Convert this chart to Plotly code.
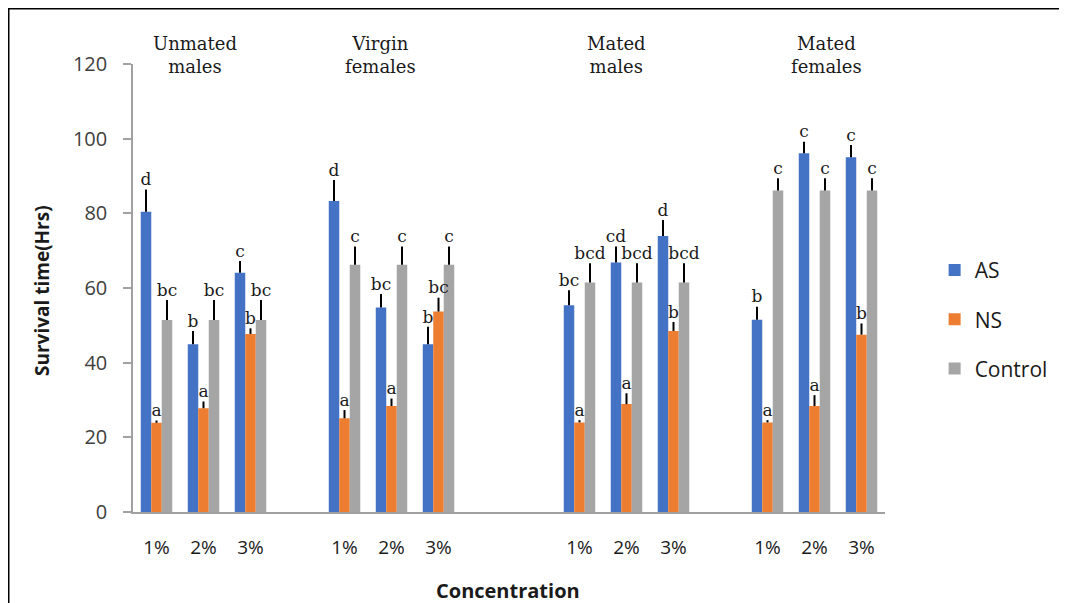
import plotly.graph_objects as go

# ---------------- data ----------------
groups = ["Unmated<br>males", "Virgin<br>females", "Mated<br>males", "Mated<br>females"]
concentrations = ["1%", "2%", "3%"]
series_names = ["AS", "NS", "Control"]

AS = [80.4, 44.9, 64.1, 83.3, 54.8, 44.9, 55.4, 66.8, 73.9, 51.5, 96.1, 95.0]
AS_err = [6.0, 3.6, 3.1, 5.6, 3.6, 4.7, 4.0, 4.3, 4.3, 3.5, 3.1, 3.3]
AS_sig = ["d", "b", "c", "d", "bc", "b", "bc", "cd", "d", "b", "c", "c"]

NS = [23.9, 27.8, 47.7, 25.1, 28.4, 53.7, 24.0, 28.9, 48.5, 24.0, 28.4, 47.5]
NS_err = [0.6, 1.8, 1.5, 2.2, 2.0, 3.7, 0.6, 2.9, 2.4, 0.6, 2.9, 3.0]
NS_sig = ["a", "a", "b", "a", "a", "bc", "a", "a", "b", "a", "a", "b"]

Control = [51.4, 51.4, 51.4, 66.2, 66.2, 66.2, 61.5, 61.5, 61.5, 86.1, 86.1, 86.1]
Control_err = [5.4, 5.4, 5.4, 4.9, 4.9, 4.9, 5.1, 5.1, 5.1, 3.3, 3.3, 3.3]
Control_sig = ["bc", "bc", "bc", "c", "c", "c", "bcd", "bcd", "bcd", "c", "c", "c"]

# ---------------- layout helpers ----------------
empty_slots_before = [0, 1, 2, 1]     # blank category slots between groups
title_shift = [-0.19, -0.23, -0.21, 0.26]
colors = ["#4472C4", "#ED7D31", "#A5A5A5"]
bargap = 0.33

# figure is drawn inside the page's default 8px body margin
W, H = 1059, 595
ML, MT, PW, PH = 125, 56, 752, 448
MR, MB = W - ML - PW, H - MT - PH

def px_x(x):  # figure pixel -> paper x
    return (x - ML) / PW

def px_y(y):  # figure pixel -> paper y
    return (MT + PH - y) / PH

positions = []
group_centers = []
slot = 0
for g, gap in enumerate(empty_slots_before):
    slot += gap
    start = slot
    for c in concentrations:
        positions.append(slot)
        slot += 1
    group_centers.append(start + 1)
tick_text = concentrations * len(groups)

values = [AS, NS, Control]
errors = [AS_err, NS_err, Control_err]
sigs = [AS_sig, NS_sig, Control_sig]

fig = go.Figure()
for i, name in enumerate(series_names):
    fig.add_trace(go.Bar(
        x=positions, y=values[i], name=name, legendgroup=name,
        marker=dict(color=colors[i], line=dict(width=0)),
        error_y=dict(type="data", symmetric=False, array=errors[i],
                     arrayminus=[0] * len(errors[i]),
                     color="black", thickness=2, width=0),
    ))

w = (1 - bargap) / 3
for i, name in enumerate(series_names):
    fig.add_trace(go.Scatter(
        x=[p + (i - 1) * w for p in positions],
        y=[v + e for v, e in zip(values[i], errors[i])],
        mode="text", text=sigs[i], textposition="top center",
        textfont=dict(family="DejaVu Serif", size=17, color="#1a1a1a"),
        showlegend=False, hoverinfo="skip", cliponaxis=False,
    ))

for g, title in enumerate(groups):
    fig.add_annotation(
        x=group_centers[g] + title_shift[g], xref="x",
        y=px_y(47), yref="paper", yanchor="middle",
        text=title, showarrow=False, align="center",
        font=dict(family="DejaVu Serif", size=18, color="#1a1a1a"),
    )

# axis titles
fig.add_annotation(
    x=px_x(500), xref="paper", xanchor="center",
    y=px_y(582), yref="paper", yanchor="middle",
    text="<b>Concentration</b>", showarrow=False,
    font=dict(family="Open Sans", size=20, color="#1a1a1a"),
)
fig.add_annotation(
    x=px_x(34), xref="paper", xanchor="center",
    y=px_y(283), yref="paper", yanchor="middle",
    text="<b>Survival time(Hrs)</b>", textangle=-90, showarrow=False,
    font=dict(family="Open Sans", size=19, color="#1a1a1a"),
)

# outer frame
fig.add_shape(type="rect", xref="paper", yref="paper",
              x0=px_x(0), x1=px_x(1054), y0=px_y(610), y1=px_y(0),
              line=dict(color="black", width=3), fillcolor="rgba(0,0,0,0)")

fig.update_layout(
    width=W, height=H,
    margin=dict(l=ML, r=MR, t=MT, b=MB),
    paper_bgcolor="white", plot_bgcolor="white",
    barmode="group", bargap=bargap, bargroupgap=0,
    font=dict(family="Open Sans", color="#404040"),
    legend=dict(x=1.066, y=0.43, xanchor="left", yanchor="middle",
                font=dict(family="Open Sans", size=21, color="#1a1a1a"),
                tracegroupgap=19, traceorder="grouped",
                itemwidth=30, bgcolor="rgba(0,0,0,0)"),
    xaxis=dict(range=[-0.5, positions[-1] + 0.5], tickmode="array",
               tickvals=positions, ticktext=tick_text,
               showline=True, linecolor="#A0A0A0", linewidth=1.5,
               ticks="", showgrid=False, zeroline=False,
               ticklabelstandoff=17,
               tickfont=dict(family="Open Sans", size=19, color="#1a1a1a")),
    yaxis=dict(range=[0, 120], tickvals=[0, 20, 40, 60, 80, 100, 120],
               showline=True, linecolor="#A0A0A0", linewidth=1.5,
               ticks="outside", ticklen=8, tickcolor="#A0A0A0", tickwidth=1.5,
               showgrid=False, zeroline=False, ticklabelstandoff=12,
               tickfont=dict(family="Open Sans", size=20, color="#404040")),
)

fig.write_html("out.html")
